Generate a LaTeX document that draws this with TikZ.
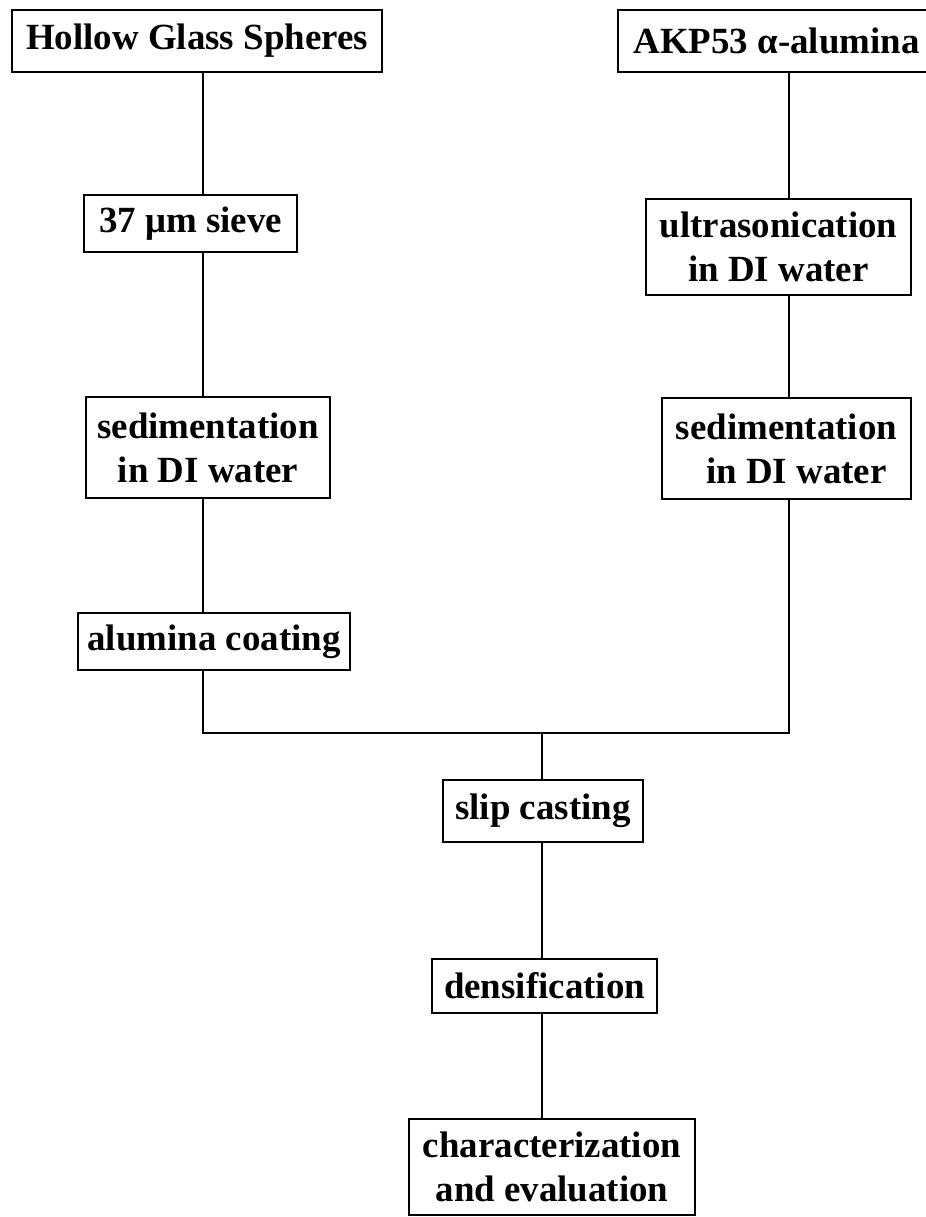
\documentclass[tikz,border=0pt]{standalone}
\usepackage{fontspec}
\setmainfont{Liberation Serif}
\usepackage{tikz}

\begin{document}
\begin{tikzpicture}[line width=1.2pt,
    procbox/.style={draw, line width=1.5pt, align=center, inner sep=0pt, font=\bfseries\fontsize{21}{25}\selectfont},
    link/.style={line width=1.2pt}]
    \useasboundingbox (0,0) rectangle (18.5,-24.34);
    % left branch
    \node[procbox, minimum width=7.4cm, minimum height=1.24cm] (hgs) at (3.94,-0.82) {Hollow Glass Spheres};
    \node[procbox, minimum width=4.26cm, minimum height=1.14cm] (sieve) at (3.81,-4.47) {37 μm sieve};
    \node[procbox, minimum width=4.88cm, minimum height=2.02cm] (sedL) at (4.16,-8.95) {sedimentation\\in DI water};
    \node[procbox, minimum width=5.44cm, minimum height=1.14cm] (alum) at (4.28,-12.83) {alumina coating};
    % right branch
    \node[procbox, minimum width=6.34cm, minimum height=1.24cm] (akp) at (15.53,-0.82) {AKP53 α-alumina};
    \node[procbox, minimum width=5.3cm, minimum height=1.92cm] (ultra) at (15.57,-4.94) {ultrasonication\\in DI water};
    \node[procbox, minimum width=4.98cm, minimum height=2.02cm] (sedR) at (15.73,-8.97) {sedimentation\\\hspace*{0.4cm}in DI water};
    % common trunk
    \node[procbox, minimum width=4.0cm, minimum height=1.24cm] (slip) at (10.86,-16.22) {slip casting};
    \node[procbox, minimum width=4.5cm, minimum height=1.08cm] (dens) at (10.89,-19.72) {densification};
    \node[procbox, minimum width=5.72cm, minimum height=1.92cm] (char) at (11.04,-23.34) {characterization\\and evaluation};

    \coordinate (jl) at (4.06,-14.66);
    \coordinate (jr) at (15.78,-14.66);
    \coordinate (jm) at (10.84,-14.66);

    \draw[link] (hgs.south -| jl) -- (sieve.north -| jl);
    \draw[link] (sieve.south -| jl) -- (sedL.north -| jl);
    \draw[link] (sedL.south -| jl) -- (alum.north -| jl);
    \draw[link] (akp.south -| jr) -- (ultra.north -| jr);
    \draw[link] (ultra.south -| jr) -- (sedR.north -| jr);
    \draw[link] (alum.south -| jl) -- (jl) -- (jr) -- (sedR.south -| jr);
    \draw[link] (jm) -- (slip.north -| jm);
    \draw[link] (slip.south -| jm) -- (dens.north -| jm);
    \draw[link] (dens.south -| jm) -- (char.north -| jm);
\end{tikzpicture}
\end{document}
